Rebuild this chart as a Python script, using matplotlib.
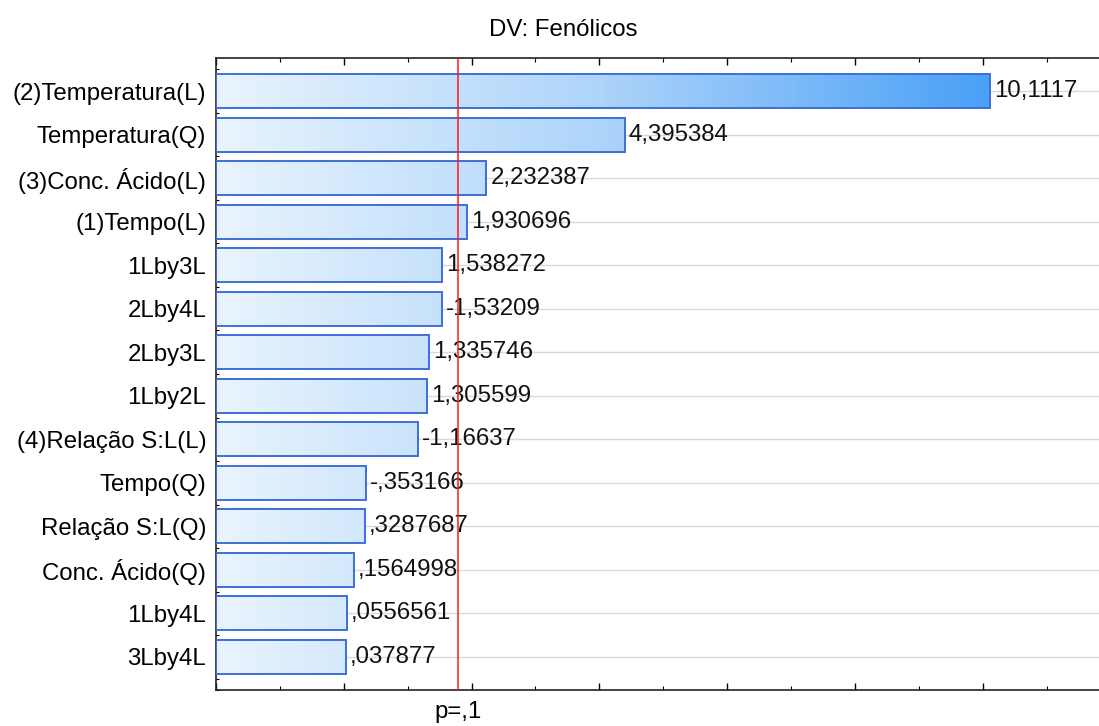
import numpy as np
import matplotlib
matplotlib.use("Agg")
import matplotlib.pyplot as plt
from matplotlib.patches import Rectangle
from matplotlib.colors import LinearSegmentedColormap
from matplotlib.ticker import MultipleLocator, FixedLocator, NullFormatter

plt.rcParams['font.family'] = ['Liberation Sans', 'DejaVu Sans']

# Standardized effect estimates (t values) for the response "Fenólicos"
effects = ["(2)Temperatura(L)", "Temperatura(Q)", "(3)Conc. Ácido(L)", "(1)Tempo(L)",
           "1Lby3L", "2Lby4L", "2Lby3L", "1Lby2L", "(4)Relação S:L(L)", "Tempo(Q)",
           "Relação S:L(Q)", "Conc. Ácido(Q)", "1Lby4L", "3Lby4L"]
t_values = [10.1117, 4.395384, 2.232387, 1.930696, 1.538272, -1.53209, 1.335746,
            1.305599, -1.16637, -0.353166, 0.3287687, 0.1564998, 0.0556561, 0.037877]
value_labels = ["10,1117", "4,395384", "2,232387", "1,930696", "1,538272", "-1,53209",
                "1,335746", "1,305599", "-1,16637", "-,353166", ",3287687", ",1564998",
                ",0556561", ",037877"]
p_crit = 1.782  # critical t for p = 0.1
p_label = "p=,1"
title = "DV: Fenólicos"

x_min, x_max = -2.0, 11.82
n = len(effects)
ypos = np.arange(n)
bar_h = 0.78
fs = 17.3

fig = plt.figure(figsize=(10.99, 7.26), dpi=100)
ax = fig.add_axes([216 / 1099, 1 - 690 / 726, 1 - 216 / 1099, (690 - 58) / 726])

# horizontal grid at bar centres
for y in ypos:
    ax.axhline(y, color="#d9d9d9", lw=1.0, zorder=0)

cmap = LinearSegmentedColormap.from_list("fade", ["#e9f4fe", "#add4fa", "#4aa0f7"])
grad = np.linspace(0, 1, 512).reshape(1, -1)
g_right = max(abs(v) for v in t_values)

for y, v in zip(ypos, t_values):
    length = abs(v)
    rect = Rectangle((x_min, y - bar_h / 2), length - x_min, bar_h,
                     facecolor="none", edgecolor="#3d6fd8", lw=1.4, zorder=3)
    im = ax.imshow(grad, cmap=cmap, aspect="auto",
                   extent=(x_min, g_right, y + bar_h / 2, y - bar_h / 2),
                   zorder=2, interpolation="bilinear")
    clip = Rectangle((x_min, y - bar_h / 2), length - x_min, bar_h,
                     transform=ax.transData, facecolor="none")
    im.set_clip_path(clip)
    ax.add_patch(rect)

ax.set_xlim(x_min, x_max)
ax.set_ylim(n - 0.24, -0.76)

for y, v, lab in zip(ypos, t_values, value_labels):
    ax.text(abs(v) + 0.06, y, lab, va="center", ha="left", fontsize=fs,
            color="#111111", zorder=4)

ax.axvline(p_crit, color="#ff1a1a", lw=1.1, zorder=5)

ax.set_yticks(ypos)
ax.set_yticklabels(effects, fontsize=fs)
ax.yaxis.set_minor_locator(FixedLocator(np.arange(-0.5, n, 0.25)))
ax.xaxis.set_major_locator(MultipleLocator(2))
ax.xaxis.set_minor_locator(MultipleLocator(1))
ax.xaxis.set_major_formatter(NullFormatter())
ax.tick_params(axis="x", which="both", direction="in", top=True, bottom=True,
               labelbottom=False)
ax.tick_params(axis="x", which="major", length=5, width=1)
ax.tick_params(axis="x", which="minor", length=3, width=0.8)
ax.tick_params(axis="y", which="major", direction="in", length=5, width=1, pad=7)
ax.tick_params(axis="y", which="minor", direction="in", length=2.5, width=0.8)

for s in ["left", "top", "bottom"]:
    ax.spines[s].set_linewidth(1.2)
    ax.spines[s].set_color("#222222")
ax.spines["right"].set_visible(False)

fig.text(563 / 1099, 1 - 30 / 726, title, ha="center", va="center", fontsize=fs)
fig.text(458 / 1099, 1 - 712 / 726, p_label, ha="center", va="center", fontsize=fs)

fig.savefig("out.png", dpi=100)
